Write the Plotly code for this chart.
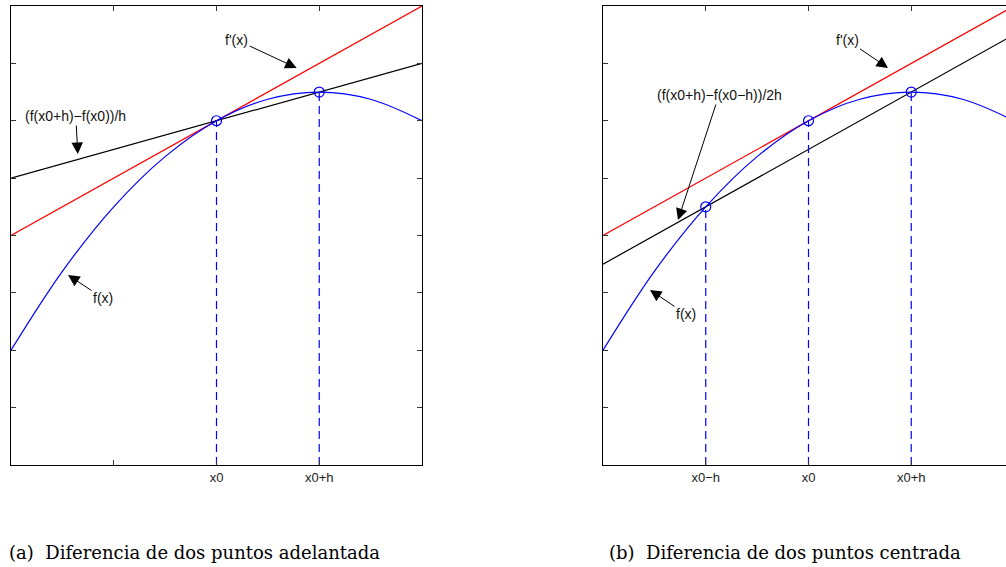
import plotly.graph_objects as go

# ---- data ----
x_curve = [0, 0.5, 1, 1.5, 2, 2.5, 3, 3.5, 4]
f_curve = [2, 3.375, 4.5, 5.375, 6, 6.375, 6.5, 6.375, 6]

tangent_x = [0, 4]
tangent_y = [4, 8]            # f'(x0) line

forward_x = [0, 4]
forward_y = [5, 7]            # forward difference secant

central_x = [0, 4]
central_y = [3.5, 7.5]        # central difference secant

pts_a_x = [2, 3]
pts_a_y = [6, 6.5]
pts_b_x = [1, 2, 3]
pts_b_y = [4.5, 6, 6.5]

tick_vals = [0, 1, 2, 3, 4]
tick_text_a = ["", "", "x0", "x0+h", ""]
tick_text_b = ["", "x0\u2212h", "x0", "x0+h", ""]
ytick_vals = [0, 1, 2, 3, 4, 5, 6, 7, 8]

caption_a = "(a)  Diferencia de dos puntos adelantada"
caption_b = "(b)  Diferencia de dos puntos centrada"

W, H = 1006, 567
TOP, BOTTOM = 6, 465
BLUE = "#0000ff"
RED = "#ff0000"

fig = go.Figure()

def add_panel(xa, ya, sec_x, sec_y, px, py):
    fig.add_trace(go.Scatter(x=tangent_x, y=tangent_y, mode="lines",
                             line=dict(color=RED, width=1.2), xaxis=xa, yaxis=ya))
    fig.add_trace(go.Scatter(x=sec_x, y=sec_y, mode="lines",
                             line=dict(color="black", width=1.2), xaxis=xa, yaxis=ya))
    fig.add_trace(go.Scatter(x=x_curve, y=f_curve, mode="lines",
                             line=dict(color=BLUE, width=1.2, shape="spline", smoothing=1.0),
                             xaxis=xa, yaxis=ya))
    for xv, yv in zip(px, py):
        fig.add_trace(go.Scatter(x=[xv, xv], y=[0, yv], mode="lines",
                                 line=dict(color=BLUE, width=1.2, dash="8px,5px"),
                                 xaxis=xa, yaxis=ya))
    fig.add_trace(go.Scatter(x=px, y=py, mode="markers",
                             marker=dict(symbol="circle-open", size=10,
                                         color=BLUE, line=dict(width=1.2)),
                             xaxis=xa, yaxis=ya))

add_panel("x", "y", forward_x, forward_y, pts_a_x, pts_a_y)
add_panel("x2", "y2", central_x, central_y, pts_b_x, pts_b_y)

left_a, right_a = 11, 422
left_b = 603
unit = (right_a - left_a) / 4.0
xmax_b = (W - left_b) / unit

axis_common = dict(showline=True, linecolor="black", linewidth=1.2,
                   ticks="inside", ticklen=5, tickcolor="#333", tickwidth=1,
                   showgrid=False, zeroline=False, fixedrange=True,
                   tickfont=dict(size=13, color="#222",
                                 family="Liberation Sans, Arial, sans-serif"))

fig.update_layout(
    width=W, height=H,
    margin=dict(l=0, r=0, t=TOP, b=H - BOTTOM),
    paper_bgcolor="white", plot_bgcolor="white",
    showlegend=False,
    font=dict(family="Liberation Sans, Arial, sans-serif", size=13, color="black"),
    xaxis=dict(domain=[left_a / W, right_a / W], range=[0, 4], mirror="ticks",
               tickvals=tick_vals, ticktext=tick_text_a, anchor="y", **axis_common),
    yaxis=dict(domain=[0, 1], range=[0, 8], mirror="ticks", tickvals=ytick_vals,
               showticklabels=False, anchor="x", **axis_common),
    xaxis2=dict(domain=[left_b / W, 1.0], range=[0, xmax_b], mirror="ticks",
                tickvals=tick_vals, ticktext=tick_text_b, anchor="y2", **axis_common),
    yaxis2=dict(domain=[0, 1], range=[0, 8], mirror=False, tickvals=ytick_vals,
                showticklabels=False, anchor="x2", **axis_common),
)

arrow_style = dict(showarrow=True, arrowhead=2, arrowsize=2.3, arrowwidth=1,
                   arrowcolor="black", font=dict(size=14, color="#111",
                   family="Liberation Sans, Arial, sans-serif"))

annots = [
    dict(xref="x", yref="y", x=2.78, y=6.92, ax=-60, ay=-28, text="f'(x)"),
    dict(xref="x", yref="y", x=0.65, y=5.42, ax=-2, ay=-38, text="(f(x0+h)\u2212f(x0))/h"),
    dict(xref="x", yref="y", x=0.555, y=3.31, ax=35, ay=23, text="f(x)"),
    dict(xref="x2", yref="y2", x=2.774, y=6.92, ax=-41, ay=-28, text="f'(x)"),
    dict(xref="x2", yref="y2", x=0.73, y=4.27, ax=41, ay=-125, text="(f(x0+h)\u2212f(x0\u2212h))/2h"),
    dict(xref="x2", yref="y2", x=0.457, y=3.05, ax=36, ay=24, text="f(x)"),
]
for a in annots:
    fig.add_annotation(**a, **arrow_style)

cap_font = dict(family="DejaVu Serif, Liberation Serif, serif", size=18, color="black")
cap_y = (BOTTOM - 552) / (BOTTOM - TOP)
fig.add_annotation(xref="paper", yref="paper", x=7 / W, y=cap_y,
                   text=caption_a, showarrow=False, xanchor="left", yanchor="middle",
                   font=cap_font)
fig.add_annotation(xref="paper", yref="paper", x=607 / W, y=cap_y,
                   text=caption_b, showarrow=False, xanchor="left", yanchor="middle",
                   font=cap_font)

fig.write_html("out.html", config={"displayModeBar": False},
               post_script="document.body.style.margin='0px';document.body.style.padding='0px';document.body.style.overflow='hidden';")
